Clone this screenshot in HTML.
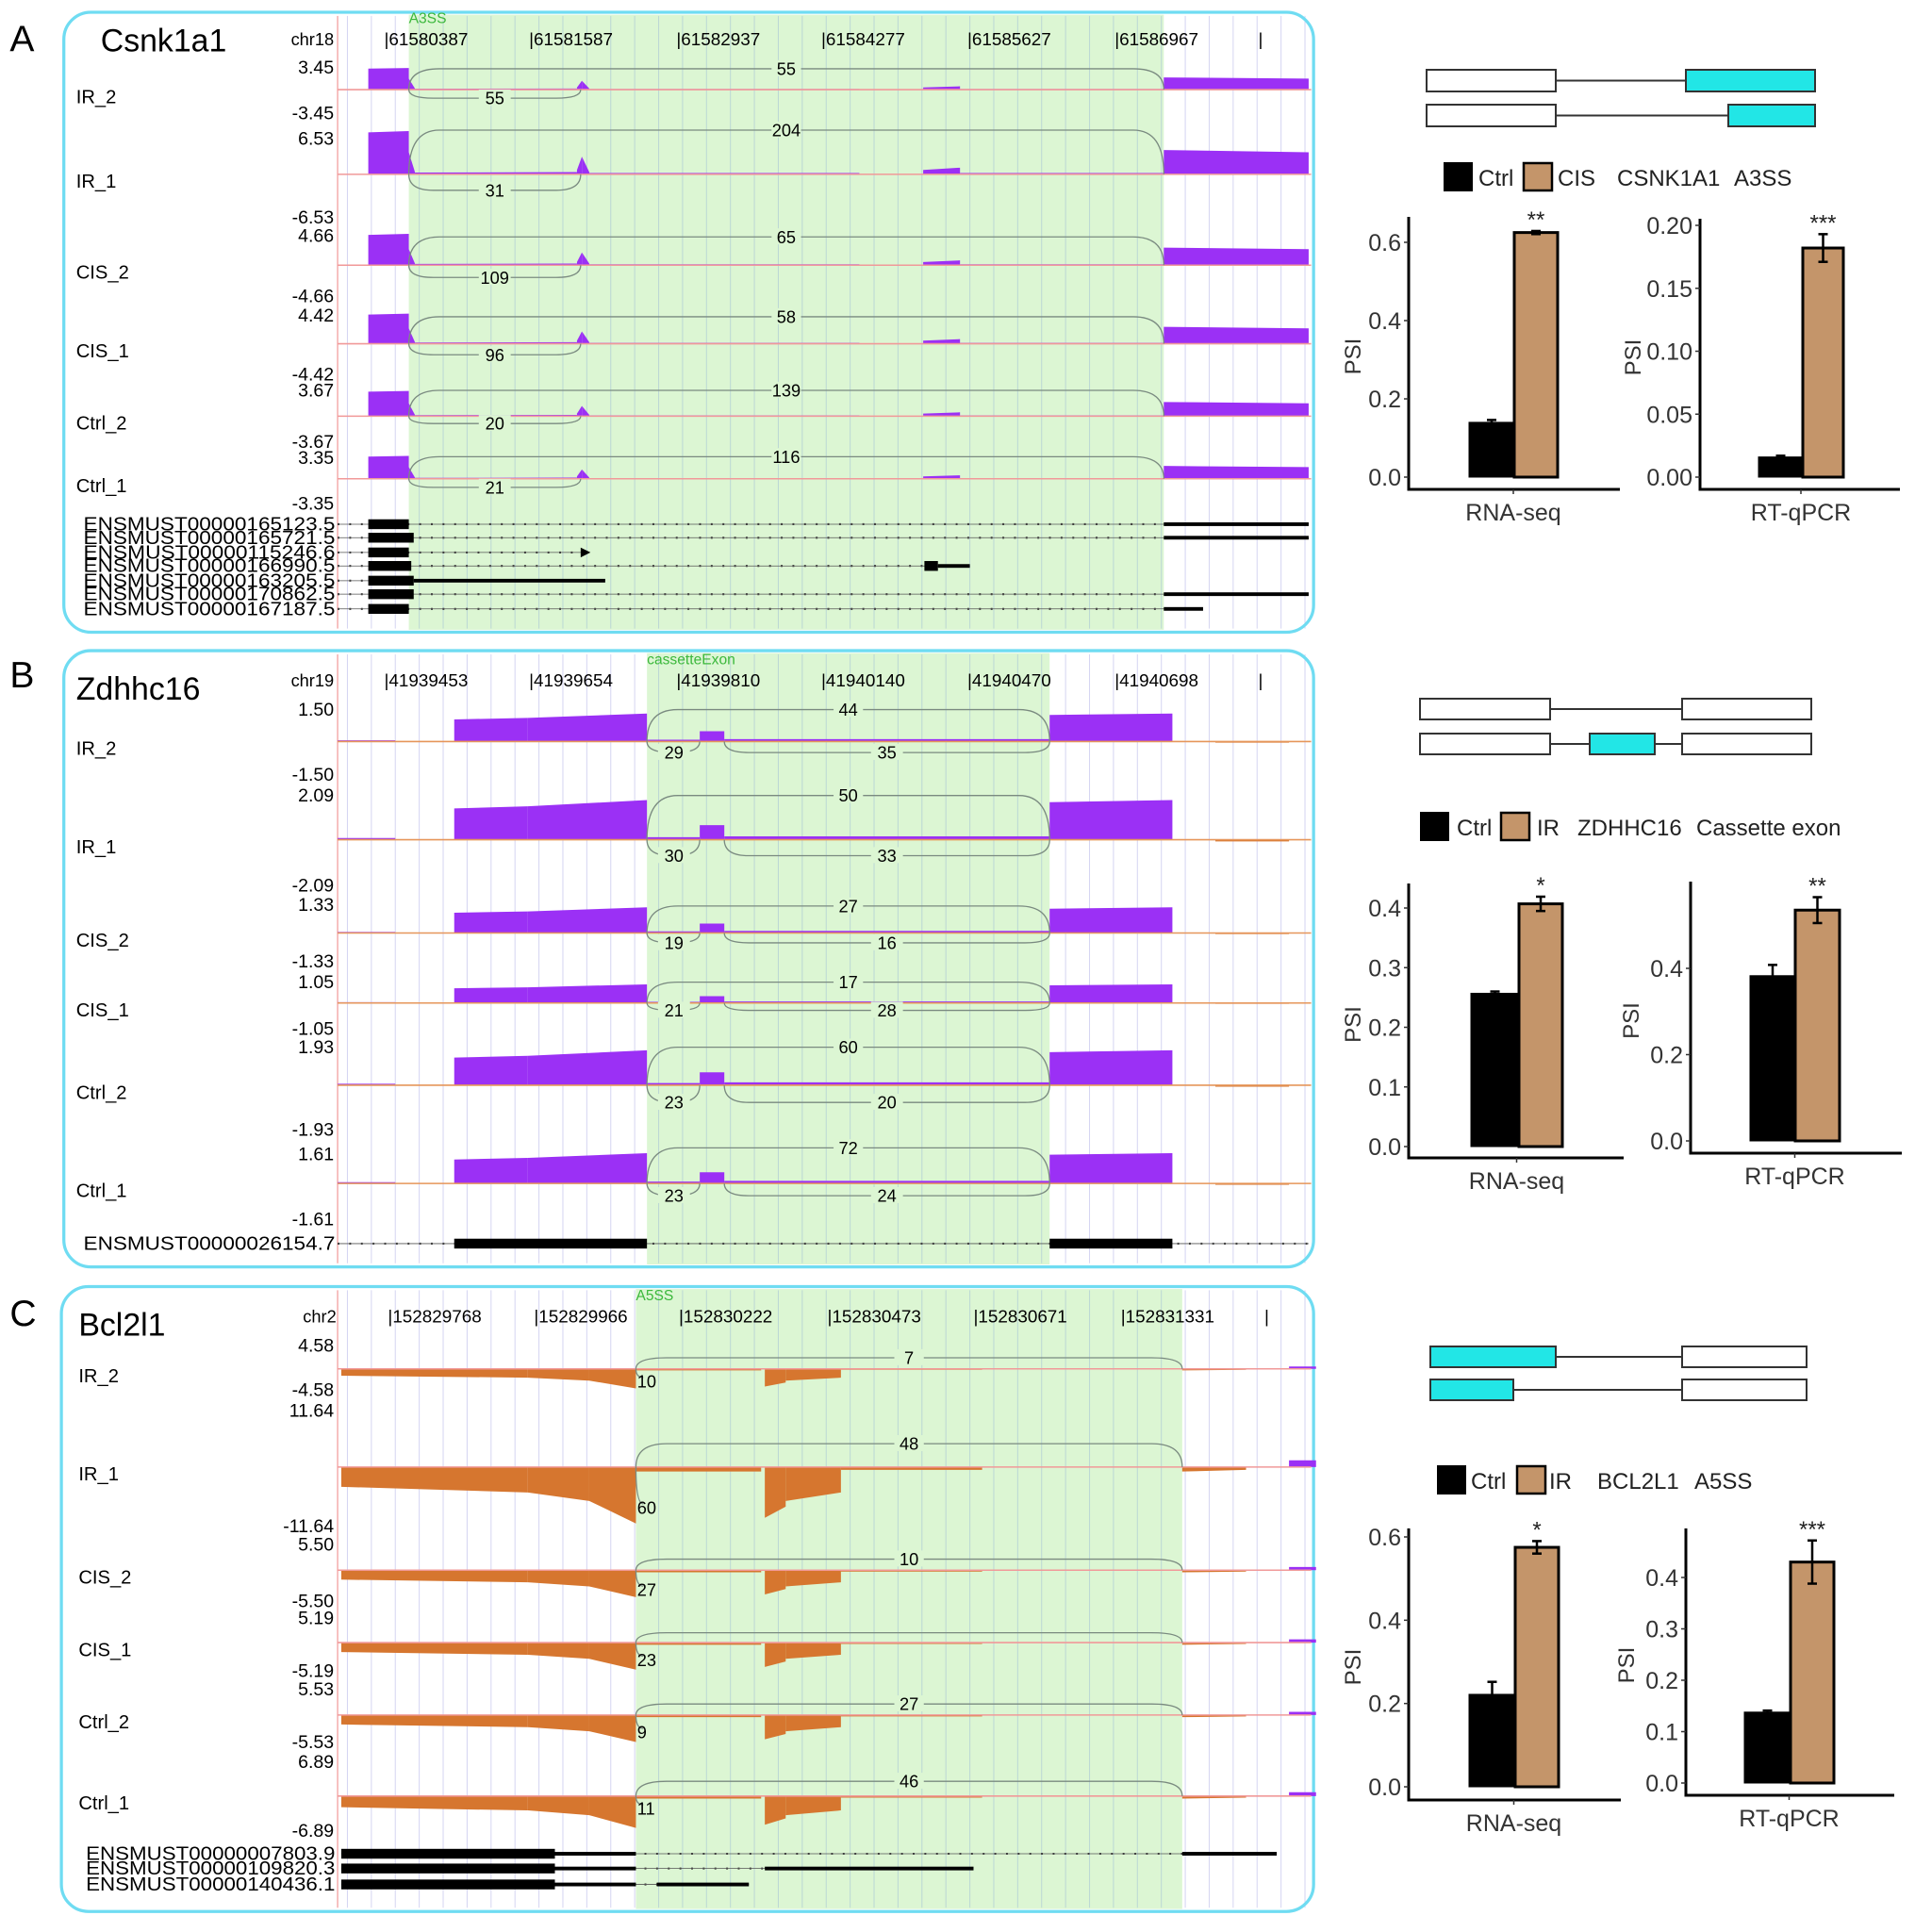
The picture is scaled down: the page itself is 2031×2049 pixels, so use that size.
<!DOCTYPE html>
<html><head><meta charset="utf-8"><style>
html,body{margin:0;padding:0;background:#fff;}
svg{display:block;font-family:"Liberation Sans",sans-serif;}
</style></head><body>
<svg id="fig" xmlns="http://www.w3.org/2000/svg" width="2031" height="2049" viewBox="0 0 2031 2049">
<rect width="2031" height="2049" fill="#fff"/>
<g id="left" transform="scale(1.302)"></g>
<g id="right"></g>
</svg>
<script>
// ---------- bar chart data ----------
const barGroups = ['Ctrl', 'Treat'];
const aRnaValues = [0.14, 0.625];
const aRnaErr = [0.006, 0.004];
const aRnaTicks = [0.0, 0.2, 0.4, 0.6];
const aRtValues = [0.016, 0.182];
const aRtErr = [0.001, 0.011];
const aRtTicks = [0.00, 0.05, 0.10, 0.15, 0.20];
const bRnaValues = [0.257, 0.407];
const bRnaErr = [0.003, 0.012];
const bRnaTicks = [0.0, 0.1, 0.2, 0.3, 0.4];
const bRtValues = [0.383, 0.535];
const bRtErr = [0.025, 0.03];
const bRtTicks = [0.0, 0.2, 0.4];
const cRnaValues = [0.222, 0.575];
const cRnaErr = [0.03, 0.015];
const cRnaTicks = [0.0, 0.2, 0.4, 0.6];
const cRtValues = [0.138, 0.43];
const cRtErr = [0.003, 0.042];
const cRtTicks = [0.0, 0.1, 0.2, 0.3, 0.4];

const NS = 'http://www.w3.org/2000/svg';
function mk(parent, tag, attrs, text) {
  const e = document.createElementNS(NS, tag);
  for (const k in attrs) e.setAttribute(k, attrs[k]);
  if (text !== undefined) e.textContent = text;
  parent.appendChild(e);
  return e;
}
const L = document.getElementById('left');
const R = document.getElementById('right');

// ---------- sashimi panels (coords in 1560-space) ----------
const panels = [
 {letter:'A', ly:42, gene:'Csnk1a1', gx:82, gy:42, box:[52,10,1018,505], green:[333,948], chr:'chr18', chrX:272, tickY:37,
  ticks:['61580387','61581587','61582937','61584277','61585627','61586967',''], tickXs:[313,431,551,669,788,908,1025],
  evt:'A3SS', evtX:333, evtY:19, rowX:62,
  tracks:[
   {n:'IR_2',b:73,h:18,top:'3.45',bot:'-3.45',ty:60,by:97,up:'55',lo:'55',upY:56,loY:80},
   {n:'IR_1',b:142,h:36,top:'6.53',bot:'-6.53',ty:118,by:182,up:'204',lo:'31',upY:106,loY:155},
   {n:'CIS_2',b:216,h:26,top:'4.66',bot:'-4.66',ty:197,by:246,up:'65',lo:'109',upY:193,loY:226},
   {n:'CIS_1',b:280,h:25,top:'4.42',bot:'-4.42',ty:262,by:310,up:'58',lo:'96',upY:258,loY:289},
   {n:'Ctrl_2',b:339,h:21,top:'3.67',bot:'-3.67',ty:323,by:365,up:'139',lo:'20',upY:318,loY:345},
   {n:'Ctrl_1',b:390,h:19,top:'3.35',bot:'-3.35',ty:378,by:415,up:'116',lo:'21',upY:372,loY:397}],
  cov:[[300,333,0.95,0.98],[333,338,0.5,0.05],[338,470,0.04,0.05],[470,474,0.1,0.4],[474,480,0.4,0.05],[480,700,0.03,0.03],[752,782,0.1,0.15],[782,948,0.03,0.03],[948,1066,0.55,0.5]],
  upArc:[333,948], loArcs:[[333,473]], lineCol:'#f19999'},
 {letter:'B', ly:560, gene:'Zdhhc16', gx:62, gy:570, box:[52,530,1018,502], green:[527,855], chr:'chr19', chrX:272, tickY:559,
  ticks:['41939453','41939654','41939810','41940140','41940470','41940698',''], tickXs:[313,431,551,669,788,908,1025],
  evt:'cassetteExon', evtX:527, evtY:541, rowX:62,
  tracks:[
   {n:'IR_2',b:604,h:24,top:'1.50',bot:'-1.50',ty:583,by:636,up:'44',lo:'29',lo2:'35',upY:578,loY:613},
   {n:'IR_1',b:684,h:34,top:'2.09',bot:'-2.09',ty:653,by:726,up:'50',lo:'30',lo2:'33',upY:648,loY:697},
   {n:'CIS_2',b:760,h:22,top:'1.33',bot:'-1.33',ty:742,by:788,up:'27',lo:'19',lo2:'16',upY:738,loY:768},
   {n:'CIS_1',b:817,h:16,top:'1.05',bot:'-1.05',ty:805,by:843,up:'17',lo:'21',lo2:'28',upY:800,loY:823},
   {n:'Ctrl_2',b:884,h:30,top:'1.93',bot:'-1.93',ty:858,by:925,up:'60',lo:'23',lo2:'20',upY:853,loY:898},
   {n:'Ctrl_1',b:964,h:26,top:'1.61',bot:'-1.61',ty:945,by:998,up:'72',lo:'23',lo2:'24',upY:935,loY:974}],
  cov:[[275,322,0.04,0.04],[370,430,0.75,0.8],[430,527,0.8,0.95],[527,570,0.06,0.06],[570,590,0.35,0.35],[590,855,0.08,0.08],[855,955,0.9,0.95],[990,1050,-0.04,-0.04]],
  upArc:[527,855], loArcs:[[527,570],[590,855]], lineCol:'#e6965a'},
 {letter:'C', ly:1080, gene:'Bcl2l1', gx:64, gy:1088, box:[50,1048,1020,509], green:[518,963], chr:'chr2', chrX:274, tickY:1077,
  ticks:['152829768','152829966','152830222','152830473','152830671','152831331',''], tickXs:[316,435,553,674,793,913,1030],
  evt:'A5SS', evtX:518, evtY:1059, rowX:64,
  tracks:[
   {n:'IR_2',b:1115,h:16,top:'4.58',bot:'-4.58',ty:1101,by:1137,up:'7',lo:'10',upY:1106,loY:1130},
   {n:'IR_1',b:1195,h:46,top:'11.64',bot:'-11.64',ty:1154,by:1248,up:'48',lo:'60',upY:1176,loY:1233},
   {n:'CIS_2',b:1279,h:22,top:'5.50',bot:'-5.50',ty:1263,by:1309,up:'10',lo:'27',upY:1270,loY:1300},
   {n:'CIS_1',b:1338,h:22,top:'5.19',bot:'-5.19',ty:1323,by:1366,up:'',lo:'23',upY:1330,loY:1357},
   {n:'Ctrl_2',b:1397,h:22,top:'5.53',bot:'-5.53',ty:1381,by:1424,up:'27',lo:'9',upY:1388,loY:1416},
   {n:'Ctrl_1',b:1463,h:26,top:'6.89',bot:'-6.89',ty:1440,by:1496,up:'46',lo:'11',upY:1451,loY:1478}],
  cov:[[278,430,-0.35,-0.45],[430,480,-0.45,-0.6],[480,518,-0.6,-1.0],[518,620,-0.08,-0.08],[623,640,-0.9,-0.7],[640,685,-0.6,-0.45],[685,800,-0.05,-0.05],[963,1015,-0.08,-0.05],[1050,1072,0.12,0.12]],
  upArc:[518,963], loArcs:[], lineCol:'#f19999'}
];

panels.forEach((p) => {
  const g = mk(L, 'g', {});
  
  
  const lt = mk(g, 'text', {x:8, y:p.ly, 'font-size':30}, p.letter);
  
  
  const [bx, by, bw, bh] = p.box;
  const gr = mk(g, 'rect', {x:p.green[0], y:by+2, width:p.green[1]-p.green[0], height:bh-4, fill:'#dcf6d3'});
  
  
  for (let x = 283; x < 1066; x += 19.5) {
    const inG = x > p.green[0] && x < p.green[1];
    mk(g, 'line', {x1:x, x2:x, y1:by+3, y2:by+bh-3, stroke: inG ? '#bcd8d4' : '#d6d6f2', 'stroke-width':0.8});
  }
  mk(g, 'line', {x1:275, x2:275, y1:by+3, y2:by+bh-3, stroke:'#f2a0a0', 'stroke-width':1});
  const box = mk(g, 'rect', {x:bx, y:by, width:bw, height:bh, rx:22, fill:'none', stroke:'#6fdcf2', 'stroke-width':2.5});
  
  
  const gn = mk(g, 'text', {x:p.gx, y:p.gy, 'font-size':26}, p.gene);
  
  
  mk(g, 'text', {x:p.chrX, y:p.tickY, 'font-size':14, 'text-anchor':'end'}, p.chr);
  p.ticks.forEach((t, i) => {
    const tt = mk(g, 'text', {x:p.tickXs[i], y:p.tickY, 'font-size':14.5}, '|' + t);
    
    
  });
  const ev = mk(g, 'text', {x:p.evtX, y:p.evtY, 'font-size':12, fill:'#3cb83c'}, p.evt);
  
  

  p.tracks.forEach((t) => {
    const tg = mk(g, 'g', {});
    
    
    mk(tg, 'text', {x:p.rowX, y:t.b + 11, 'font-size':15.5}, t.n);
    mk(tg, 'text', {x:272, y:t.ty, 'font-size':15, 'text-anchor':'end'}, t.top);
    mk(tg, 'text', {x:272, y:t.by, 'font-size':15, 'text-anchor':'end'}, t.bot);
    p.cov.forEach(c => {
      const [x1, x2, f1, f2] = c;
      const col = f1 >= 0 ? '#9b30f5' : '#d6762f';
      const y1 = t.b - f1 * t.h, y2 = t.b - f2 * t.h;
      const cv = mk(tg, 'path', {d:`M${x1},${t.b} L${x1},${y1} L${x2},${y2} L${x2},${t.b} Z`, fill:col});
      
      
    });
    mk(tg, 'line', {x1:275, x2:1068, y1:t.b, y2:t.b, stroke:p.lineCol, 'stroke-width':1.2});
    if (p.upArc) {
      const [a1, a2] = p.upArc;
      const py = t.upY;
      const ua = mk(tg, 'path', {d:`M${a1},${t.b} Q${a1},${py} ${a1+25},${py} L${a2-25},${py} Q${a2},${py} ${a2},${t.b}`, fill:'none', stroke:'#7a8a80', 'stroke-width':1});
      
      
      if (t.up) {
        const mx = (a1 + a2) / 2;
        mk(tg, 'rect', {x:mx-12, y:py-7, width:24, height:13, fill:'#dcf6d3'});
        mk(tg, 'text', {x:mx, y:py+5, 'font-size':14, 'text-anchor':'middle'}, t.up);
      }
    }
    if (p.letter === 'C') {
      const la = mk(tg, 'path', {d:`M518,${t.b} Q518,${t.loY-8} 524,${t.loY-8}`, fill:'none', stroke:'#7a8a80', 'stroke-width':1});
      
      
      mk(tg, 'text', {x:519, y:t.loY, 'font-size':14}, t.lo);
    }
    p.loArcs.forEach((la, k) => {
      const [a1, a2] = la;
      const py = t.loY;
      const ar = mk(tg, 'path', {d:`M${a1},${t.b} Q${a1},${py} ${a1+20},${py} L${a2-20},${py} Q${a2},${py} ${a2},${t.b}`, fill:'none', stroke:'#7a8a80', 'stroke-width':1});
      
      
      const lbl = k === 0 ? t.lo : t.lo2;
      const mx = p.letter === 'B' && k === 0 ? 549 : (a1 + a2) / 2;
      mk(tg, 'rect', {x:mx-13, y:py-7, width:26, height:13, fill:'#dcf6d3'});
      mk(tg, 'text', {x:mx, y:py+5, 'font-size':14, 'text-anchor':'middle'}, lbl);
    });
  });
});

// ---------- transcripts ----------
function txRow(name, y, x0, x1, thick, thin, lx) {
  const g = mk(L, 'g', {});
  
  
  mk(g, 'text', {x:lx, y:y + 5, 'font-size':15.5, textLength:273 - lx, lengthAdjust:'spacingAndGlyphs'}, name);
  mk(g, 'line', {x1:x0, x2:x1, y1:y, y2:y, stroke:'#333', 'stroke-width':1.6, 'stroke-dasharray':'1.5,8'});
  mk(g, 'line', {x1:x0, x2:x1, y1:y, y2:y, stroke:'#555', 'stroke-width':0.6});
  thick.forEach(s => mk(g, 'rect', {x:s[0], y:y - 4, width:s[1] - s[0], height:8, fill:'#000'}));
  thin.forEach(s => mk(g, 'rect', {x:s[0], y:y - 1.5, width:s[1] - s[0], height:3, fill:'#000'}));
  return g;
}
txRow('ENSMUST00000165123.5', 427, 275, 1066, [[300,333]], [[948,1066]], 68);
txRow('ENSMUST00000165721.5', 438, 275, 1066, [[300,337]], [[948,1066]], 68);
const t3 = txRow('ENSMUST00000115246.6', 450, 275, 476, [[300,333]], [], 68);
mk(t3, 'path', {d:'M473,446 L481,450 L473,454 Z', fill:'#000'});
txRow('ENSMUST00000166990.5', 461, 275, 790, [[300,335],[753,764]], [[764,790]], 68);
txRow('ENSMUST00000163205.5', 473, 275, 493, [[300,337]], [[337,493]], 68);
txRow('ENSMUST00000170862.5', 484, 275, 1066, [[300,337]], [[948,1066]], 68);
txRow('ENSMUST00000167187.5', 496, 275, 980, [[300,333]], [[948,980]], 68);
txRow('ENSMUST00000026154.7', 1013, 275, 1066, [[370,527],[855,955]], [], 68);
txRow('ENSMUST00000007803.9', 1510, 278, 1040, [[278,452]], [[452,518],[963,1040]], 70);
txRow('ENSMUST00000109820.3', 1522, 278, 793, [[278,452]], [[452,518],[623,793]], 70);
txRow('ENSMUST00000140436.1', 1535, 278, 610, [[278,452]], [[452,518],[535,610]], 70);

// ---------- schematics (real px) ----------
function schematic(y1, y2, h, rows) {
  rows.forEach((r, ri) => {
    const y = ri === 0 ? y1 : y2;
    const g = mk(R, 'g', {});
    
    
    mk(g, 'line', {x1:r[0][0], x2:r[r.length-1][1], y1:y + h/2, y2:y + h/2, stroke:'#333', 'stroke-width':2});
    r.forEach(b => mk(g, 'rect', {x:b[0], y:y, width:b[1]-b[0], height:h, fill:b[2] ? '#22e6e6' : '#fff', stroke:'#333', 'stroke-width':2}));
  });
}
schematic(74, 111, 23, [[[1513,1650,0],[1788,1925,1]], [[1513,1650,0],[1833,1925,1]]]);
schematic(741, 778, 22, [[[1506,1644,0],[1784,1921,0]], [[1506,1644,0],[1686,1755,1],[1784,1921,0]]]);
schematic(1428, 1463, 22, [[[1517,1650,1],[1784,1916,0]], [[1517,1605,1],[1784,1916,0]]]);

// ---------- legends ----------
function legend(y, xs, treat, gene, evt) {
  const g = mk(R, 'g', {});
  
  
  mk(g, 'rect', {x:xs[0], y:y, width:31, height:31, fill:'#000'});
  mk(g, 'text', {x:xs[1], y:y + 25, 'font-size':24, fill:'#222'}, 'Ctrl');
  mk(g, 'rect', {x:xs[2], y:y + 1, width:30, height:29, fill:'#c4956a', stroke:'#000', 'stroke-width':2.5});
  mk(g, 'text', {x:xs[3], y:y + 25, 'font-size':24, fill:'#222'}, treat);
  mk(g, 'text', {x:xs[4], y:y + 25, 'font-size':24, fill:'#222'}, gene);
  mk(g, 'text', {x:xs[5], y:y + 25, 'font-size':24, fill:'#222'}, evt);
}
legend(172, [1531,1568,1616,1652,1715,1839], 'CIS', 'CSNK1A1', 'A3SS');
legend(861, [1506,1545,1592,1630,1673,1799], 'IR', 'ZDHHC16', 'Cassette exon');
legend(1554, [1524,1560,1609,1643,1694,1797], 'IR', 'BCL2L1', 'A5SS');

// ---------- bar charts ----------
function barChart(o) {
  const g = mk(R, 'g', {});
  
  
  const yScale = v => o.y0 - v * (o.y0 - o.yRefPx) / o.yRef;
  mk(g, 'line', {x1:o.ax, x2:o.ax, y1:o.top, y2:o.xAxisY + 1.5, stroke:'#000', 'stroke-width':3});
  mk(g, 'line', {x1:o.ax - 1.5, x2:o.xEnd, y1:o.xAxisY, y2:o.xAxisY, stroke:'#000', 'stroke-width':3});
  o.ticks.forEach(t => {
    const y = yScale(t);
    mk(g, 'line', {x1:o.ax - 5, x2:o.ax, y1:y, y2:y, stroke:'#333', 'stroke-width':1.5});
    const tl = mk(g, 'text', {x:o.ax - 8, y:y + 9, 'font-size':25, 'text-anchor':'end', fill:'#333'}, t.toFixed(o.dec));
    
    
  });
  const yt = mk(g, 'text', {x:0, y:0, 'font-size':24, 'text-anchor':'middle', fill:'#333', transform:`translate(${o.psiX},${(o.top + o.y0)/2 + 10}) rotate(-90)`}, 'PSI');
  
  
  const cx = (o.bars[0] + o.bars[2]) / 2;
  mk(g, 'line', {x1:cx, x2:cx, y1:o.xAxisY, y2:o.xAxisY + 5, stroke:'#333', 'stroke-width':1.5});
  const xl = mk(g, 'text', {x:cx, y:o.xAxisY + 33, 'font-size':25, 'text-anchor':'middle', fill:'#333'}, o.xlabel);
  
  
  o.values.forEach((v, i) => {
    const x1 = o.bars[i], x2 = o.bars[i + 1];
    const y = yScale(v);
    const b = mk(g, 'rect', {x:x1, y:y, width:x2 - x1, height:o.y0 - y, fill:i === 0 ? '#000' : '#c4956a', stroke:'#000', 'stroke-width':i === 0 ? 1 : 3});
    
    
    const m = (x1 + x2) / 2;
    const e1 = yScale(v + o.err[i]), e2 = yScale(v - o.err[i]);
    mk(g, 'line', {x1:m, x2:m, y1:e1, y2:e2, stroke:'#000', 'stroke-width':2.5});
    mk(g, 'line', {x1:m - 5, x2:m + 5, y1:e1, y2:e1, stroke:'#000', 'stroke-width':2.5});
    mk(g, 'line', {x1:m - 5, x2:m + 5, y1:e2, y2:e2, stroke:'#000', 'stroke-width':2.5});
    if (i === 1) {
      const st = mk(g, 'text', {x:m, y:e1 - 4, 'font-size':24, 'text-anchor':'middle', fill:'#222'}, o.stars);
      
      
    }
  });
}
barChart({name:'chart-a-rnaseq', ax:1494, top:230, xAxisY:519, xEnd:1718, y0:506, yRef:0.6, yRefPx:257, bars:[1558,1606,1652], values:aRnaValues, err:aRnaErr, ticks:aRnaTicks, dec:1, psiX:1443, xlabel:'RNA-seq', stars:'**'});
barChart({name:'chart-a-rtqpcr', ax:1803, top:232, xAxisY:519, xEnd:2015, y0:506, yRef:0.2, yRefPx:239, bars:[1865,1912,1955], values:aRtValues, err:aRtErr, ticks:aRtTicks, dec:2, psiX:1740, xlabel:'RT-qPCR', stars:'***'});
barChart({name:'chart-b-rnaseq', ax:1494, top:937, xAxisY:1228, xEnd:1722, y0:1216, yRef:0.4, yRefPx:963, bars:[1560,1611,1657], values:bRnaValues, err:bRnaErr, ticks:bRnaTicks, dec:1, psiX:1443, xlabel:'RNA-seq', stars:'*'});
barChart({name:'chart-b-rtqpcr', ax:1793, top:935, xAxisY:1223, xEnd:2017, y0:1210, yRef:0.4, yRefPx:1027, bars:[1856,1904,1951], values:bRtValues, err:bRtErr, ticks:bRtTicks, dec:1, psiX:1738, xlabel:'RT-qPCR', stars:'**'});
barChart({name:'chart-c-rnaseq', ax:1494, top:1621, xAxisY:1909, xEnd:1719, y0:1895, yRef:0.6, yRefPx:1630, bars:[1558,1607,1653], values:cRnaValues, err:cRnaErr, ticks:cRnaTicks, dec:1, psiX:1443, xlabel:'RNA-seq', stars:'*'});
barChart({name:'chart-c-rtqpcr', ax:1788, top:1621, xAxisY:1904, xEnd:2009, y0:1891, yRef:0.4, yRefPx:1673, bars:[1850,1899,1945], values:cRtValues, err:cRtErr, ticks:cRtTicks, dec:1, psiX:1733, xlabel:'RT-qPCR', stars:'***'});
</script>
</body></html>
